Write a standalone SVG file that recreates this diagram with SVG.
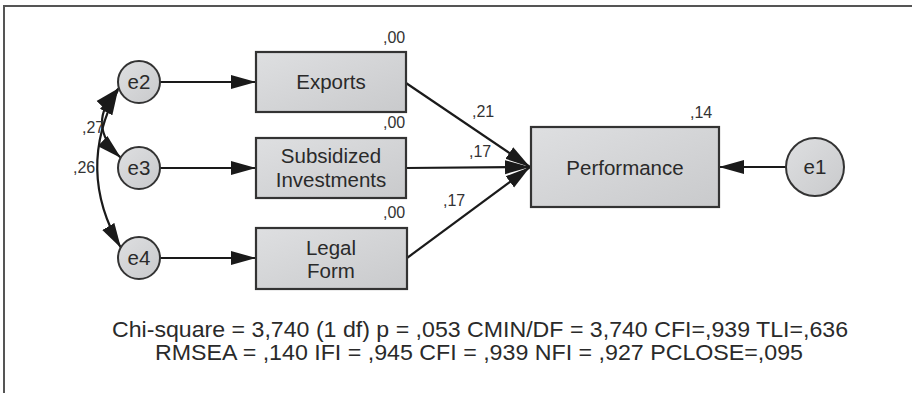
<svg xmlns="http://www.w3.org/2000/svg" width="912" height="393" viewBox="0 0 912 393">
<defs>
<linearGradient id="g" x1="0" y1="0" x2="1" y2="1">
<stop offset="0" stop-color="#dedfe1"/>
<stop offset="1" stop-color="#c9cacc"/>
</linearGradient>
<marker id="ah" markerUnits="userSpaceOnUse" markerWidth="26" markerHeight="16" viewBox="0 0 26 16" refX="25" refY="8" orient="auto-start-reverse">
<path d="M0,1 L25,8 L0,15 Z" fill="#1a1a1a"/>
</marker>
<style>
.box{fill:url(#g);stroke:#333;stroke-width:2.2}
.circ{fill:url(#g);stroke:#333;stroke-width:2}
.t{font-family:"Liberation Sans",Arial,sans-serif;font-size:20.5px;fill:#2a2a2a;text-anchor:middle}
.l{font-family:"Liberation Sans",Arial,sans-serif;font-size:16px;fill:#333}
.f{font-family:"Liberation Sans",Arial,sans-serif;font-size:22px;fill:#2a2a2a;text-anchor:middle}
.c{fill:none;stroke:#1a1a1a;stroke-width:2.2}
</style>
</defs>
<rect x="0" y="0" width="912" height="393" fill="#fff"/>
<path d="M4,393 L4,6 L912,6" fill="none" stroke="#555" stroke-width="2"/>
<g id="connectors">
<path class="c" d="M160,82 L256,82" marker-end="url(#ah)"/>
<path class="c" d="M160,168 L256,168" marker-end="url(#ah)"/>
<path class="c" d="M160,258 L256,258" marker-end="url(#ah)"/>
<path class="c" d="M406,83 L530,167" marker-end="url(#ah)"/>
<path class="c" d="M406,168 L530,167" marker-end="url(#ah)"/>
<path class="c" d="M407,258 L530,167" marker-end="url(#ah)"/>
<path class="c" d="M786,167 L719,167" marker-end="url(#ah)"/>
<path class="c" d="M119,88 Q84,124 121,158" marker-start="url(#ah)" marker-end="url(#ah)"/>
<path class="c" d="M118,90 Q75,170 121,248" marker-start="url(#ah)" marker-end="url(#ah)"/>
</g>
<g id="e2"><circle class="circ" cx="139" cy="82" r="21"/><text class="t" x="139" y="89">e2</text></g>
<g id="e3"><circle class="circ" cx="139" cy="168" r="21"/><text class="t" x="139" y="175">e3</text></g>
<g id="e4"><circle class="circ" cx="139" cy="258" r="21"/><text class="t" x="139" y="265">e4</text></g>
<g id="e1"><circle class="circ" cx="815" cy="167" r="29"/><text class="t" x="815" y="174">e1</text></g>
<g id="exports"><rect class="box" x="256" y="52" width="150" height="60"/><text class="t" x="331" y="89">Exports</text><text class="l" x="383" y="43">,00</text></g>
<g id="subsidized"><rect class="box" x="256" y="138" width="150" height="60"/><text class="t" x="331" y="163">Subsidized</text><text class="t" x="331" y="187">Investments</text><text class="l" x="383" y="128">,00</text></g>
<g id="legal"><rect class="box" x="256" y="228" width="151" height="61"/><text class="t" x="331" y="255">Legal</text><text class="t" x="331" y="278">Form</text><text class="l" x="383" y="218">,00</text></g>
<g id="performance"><rect class="box" x="531" y="127" width="188" height="80"/><text class="t" x="625" y="175">Performance</text><text class="l" x="690" y="118">,14</text></g>
<g id="labels">
<text class="l" x="472" y="117">,21</text>
<text class="l" x="469" y="157">,17</text>
<text class="l" x="443" y="206">,17</text>
<text class="l" x="82" y="133">,27</text>
<text class="l" x="73" y="173">,26</text>
</g>
<g id="fit">
<text class="f" x="480" y="337" textLength="736" lengthAdjust="spacingAndGlyphs">Chi-square = 3,740 (1 df) p = ,053 CMIN/DF = 3,740 CFI=,939 TLI=,636</text>
<text class="f" x="479" y="360" textLength="648" lengthAdjust="spacingAndGlyphs">RMSEA = ,140 IFI = ,945 CFI = ,939 NFI = ,927 PCLOSE=,095</text>
</g>
</svg>
